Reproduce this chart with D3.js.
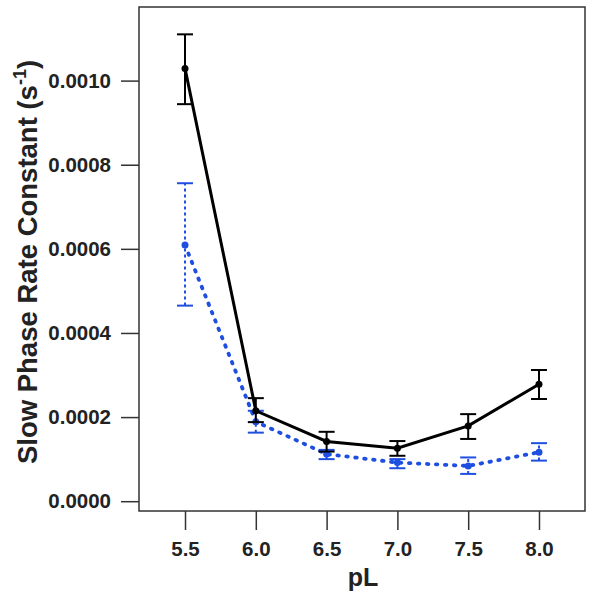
<!DOCTYPE html>
<html><head><meta charset="utf-8">
<script src="https://cdn.jsdelivr.net/npm/d3@7"></script>
<style>body{margin:0;background:#fff}svg{display:block}</style>
</head><body>
<script>
const pL = [5.5, 6.0, 6.5, 7.0, 7.5, 8.0];
const blackVals = [0.001029, 0.000215, 0.000142, 0.000126, 0.000179, 0.000278];
const blackLow  = [0.000944, 0.000188, 0.000118, 0.000108, 0.000148, 0.000243];
const blackHigh = [0.00111,  0.000245, 0.000165, 0.000143, 0.000207, 0.000312];
const blueVals  = [0.000609, 0.000189, 0.000112, 0.0000918, 0.0000839, 0.0001164];
const blueLow   = [0.000465, 0.000163, 0.000100, 0.0000784, 0.0000649, 0.0000965];
const blueHigh  = [0.000756, 0.000215, 0.000122, 0.000100, 0.000104, 0.000138];
const xTicks = [5.5, 6.0, 6.5, 7.0, 7.5, 8.0];
const yTicks = [0, 0.0002, 0.0004, 0.0006, 0.0008, 0.0010];

const W = 595, H = 599;
const L = 139, R = 585, T = 7, B = 511;
const svg = d3.select("body").append("svg").attr("width", W).attr("height", H);
const x = d3.scaleLinear().domain([5.175, 8.325]).range([L, R]);
const y = d3.scaleLinear().domain([-0.0000233, 0.001175]).range([B, T]);

const font = "'Liberation Sans', Arial, sans-serif";
svg.append("rect").attr("x", L).attr("y", T).attr("width", R - L).attr("height", B - T)
  .attr("fill", "none").attr("stroke", "#333").attr("stroke-width", 1.5);

const yAxis = d3.axisLeft(y).tickValues(yTicks).tickFormat(d3.format(".4f")).tickSize(18).tickPadding(10);
const gy = svg.append("g").attr("transform", `translate(${L},0)`).call(yAxis);
gy.select(".domain").remove();
gy.selectAll("line").attr("stroke", "#333").attr("stroke-width", 1.5);
gy.selectAll("text").attr("font-family", font).attr("font-weight", "bold").attr("font-size", 20.5).attr("fill", "#222");

const xAxis = d3.axisBottom(x).tickValues(xTicks).tickFormat(d3.format(".1f")).tickSize(19).tickPadding(11);
const gx = svg.append("g").attr("transform", `translate(0,${B})`).call(xAxis);
gx.select(".domain").remove();
gx.selectAll("line").attr("stroke", "#333").attr("stroke-width", 1.5);
gx.selectAll("text").attr("font-family", font).attr("font-weight", "bold").attr("font-size", 20.5).attr("fill", "#222");

svg.append("text").attr("x", 363).attr("y", 586).attr("text-anchor", "middle")
  .attr("font-family", font).attr("font-weight", "bold").attr("font-size", 25).attr("fill", "#222").text("pL");
const yl = svg.append("text").attr("transform", "translate(37,262) rotate(-90)").attr("text-anchor", "middle")
  .attr("font-family", font).attr("font-weight", "bold").attr("font-size", 27.5).attr("fill", "#222");
yl.append("tspan").text("Slow Phase Rate Constant (s");
yl.append("tspan").attr("dy", -11).attr("font-size", 18).text("-1");
yl.append("tspan").attr("dy", 11).text(")");

function series(vals, low, high, color, dashed) {
  const data = pL.map((p, i) => ({p, v: vals[i], lo: low[i], hi: high[i]}));
  const g = svg.append("g");
  const cap = 8;
  g.selectAll(".eb").data(data).enter().append("line")
    .attr("x1", d => x(d.p)).attr("x2", d => x(d.p))
    .attr("y1", d => y(d.lo)).attr("y2", d => y(d.hi))
    .attr("stroke", color).attr("stroke-width", 2)
    .attr("stroke-dasharray", dashed ? "3,3" : null);
  ["lo", "hi"].forEach(k => {
    g.selectAll(".cap" + k).data(data).enter().append("line")
      .attr("x1", d => x(d.p) - cap).attr("x2", d => x(d.p) + cap)
      .attr("y1", d => y(d[k])).attr("y2", d => y(d[k]))
      .attr("stroke", color).attr("stroke-width", 2);
  });
  const line = d3.line().x(d => x(d.p)).y(d => y(d.v));
  g.append("path").datum(data).attr("d", line).attr("fill", "none")
    .attr("stroke", color).attr("stroke-width", dashed ? 3.8 : 3)
    .attr("stroke-dasharray", dashed ? "1.5,7.5" : null)
    .attr("stroke-linecap", dashed ? "round" : "butt");
  g.selectAll("circle").data(data).enter().append("circle")
    .attr("cx", d => x(d.p)).attr("cy", d => y(d.v)).attr("r", 3.5).attr("fill", color);
}
series(blueVals, blueLow, blueHigh, "#1f4fe0", true);
series(blackVals, blackLow, blackHigh, "#000", false);
</script>
</body></html>
